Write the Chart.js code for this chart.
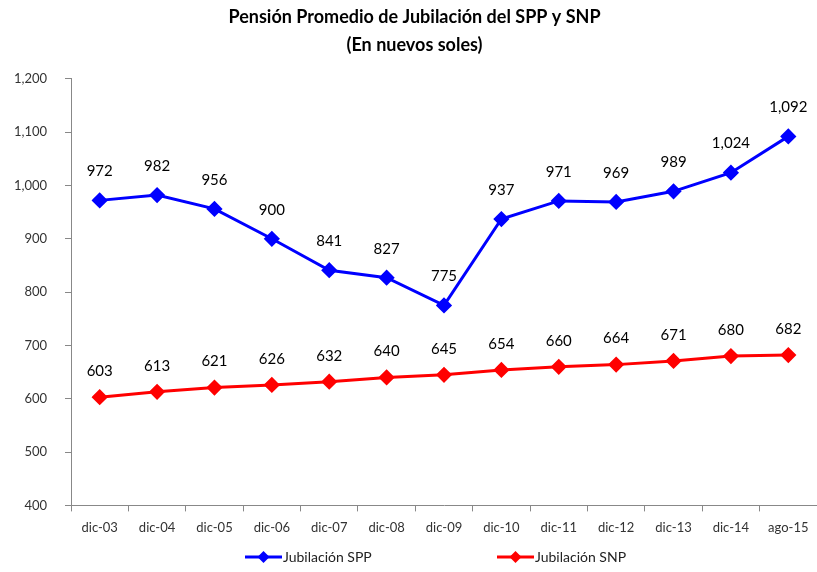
<!DOCTYPE html>
<html>
<head>
<meta charset="utf-8">
<script src="https://cdn.jsdelivr.net/npm/chart.js@4.4.1/dist/chart.umd.min.js"></script>
<style>
  html, body { margin: 0; padding: 0; background: #fff; }
  #wrap { width: 817px; height: 572px; position: relative; }
</style>
</head>
<body>
<div id="wrap"><canvas id="c" width="817" height="572"></canvas></div>
<script>
const categories = ['dic-03','dic-04','dic-05','dic-06','dic-07','dic-08','dic-09','dic-10','dic-11','dic-12','dic-13','dic-14','ago-15'];
const sppValues = [972, 982, 956, 900, 841, 827, 775, 937, 971, 969, 989, 1024, 1092];
const snpValues = [603, 613, 621, 626, 632, 640, 645, 654, 660, 664, 671, 680, 682];
const seriesNames = ['Jubilación SPP', 'Jubilación SNP'];
const titleLines = ['Pensión Promedio de Jubilación del SPP y SNP', '(En nuevos soles)'];

const FONT = 'Lato, "Open Sans", sans-serif';
const BLUE = '#0000FF';
const RED = '#FF0000';
const fmt = v => v.toLocaleString('en-US');

const labelPlugin = {
  id: 'valueLabels',
  afterDatasetsDraw(chart) {
    const ctx = chart.ctx;
    ctx.save();
    ctx.font = '15px ' + FONT;
    ctx.fillStyle = '#000';
    ctx.textAlign = 'center';
    ctx.textBaseline = 'middle';
    chart.data.datasets.forEach((ds, di) => {
      const meta = chart.getDatasetMeta(di);
      const off = di === 0 ? 29 : 26;
      meta.data.forEach((pt, i) => {
        ctx.fillText(fmt(ds.data[i]), pt.x, pt.y - off);
      });
    });
    ctx.restore();
  }
};

const legendPlugin = {
  id: 'customLegend',
  afterDraw(chart) {
    const ctx = chart.ctx;
    const y = 557;
    const items = [
      { x: 245, color: BLUE, text: seriesNames[0] },
      { x: 497, color: RED, text: seriesNames[1] }
    ];
    ctx.save();
    items.forEach(it => {
      ctx.strokeStyle = it.color;
      ctx.lineWidth = 3;
      ctx.beginPath();
      ctx.moveTo(it.x, y);
      ctx.lineTo(it.x + 37, y);
      ctx.stroke();
      ctx.fillStyle = it.color;
      const cx = it.x + 18.5, r = 6;
      ctx.beginPath();
      ctx.moveTo(cx, y - r); ctx.lineTo(cx + r, y); ctx.lineTo(cx, y + r); ctx.lineTo(cx - r, y);
      ctx.closePath(); ctx.fill();
      ctx.fillStyle = '#222';
      ctx.font = '14px ' + FONT;
      ctx.textAlign = 'left';
      ctx.textBaseline = 'middle';
      ctx.fillText(it.text, it.x + 38, y);
    });
    ctx.restore();
  }
};

new Chart(document.getElementById('c'), {
  type: 'line',
  data: {
    labels: categories,
    datasets: [
      {
        label: seriesNames[0], data: sppValues,
        borderColor: BLUE, backgroundColor: BLUE, borderWidth: 3,
        pointStyle: 'rectRot', pointRadius: 6, pointHoverRadius: 6,
        tension: 0
      },
      {
        label: seriesNames[1], data: snpValues,
        borderColor: RED, backgroundColor: RED, borderWidth: 3,
        pointStyle: 'rectRot', pointRadius: 6, pointHoverRadius: 6,
        tension: 0
      }
    ]
  },
  options: {
    responsive: false,
    animation: false,
    layout: { autoPadding: false, padding: { left: 12, right: 0, top: 3, bottom: 27 } },
    plugins: {
      legend: { display: false },
      tooltip: { enabled: false },
      title: {
        display: true, text: titleLines, color: '#000',
        font: { family: FONT, size: 18, weight: 'bold', lineHeight: 1.55 },
        padding: { top: 0, bottom: 20 }
      }
    },
    scales: {
      x: {
        offset: true,
        afterFit: s => { s.paddingLeft = 0; s.paddingRight = 0; },
        grid: { display: true, drawOnChartArea: false, drawTicks: true, tickLength: 6, color: '#888', offset: true },
        border: { color: '#888', width: 1 },
        ticks: { color: '#333', font: { family: FONT, size: 13 }, padding: 9, maxRotation: 0, autoSkip: false }
      },
      y: {
        min: 400, max: 1200,
        afterFit: s => { s.width = 59; },
        grid: { display: true, drawOnChartArea: false, drawTicks: true, tickLength: 6, color: '#888' },
        border: { color: '#888', width: 1 },
        ticks: { stepSize: 100, color: '#333', font: { family: FONT, size: 13 }, padding: 18, callback: v => fmt(v) }
      }
    }
  },
  plugins: [labelPlugin, legendPlugin]
});
</script>
</body>
</html>
